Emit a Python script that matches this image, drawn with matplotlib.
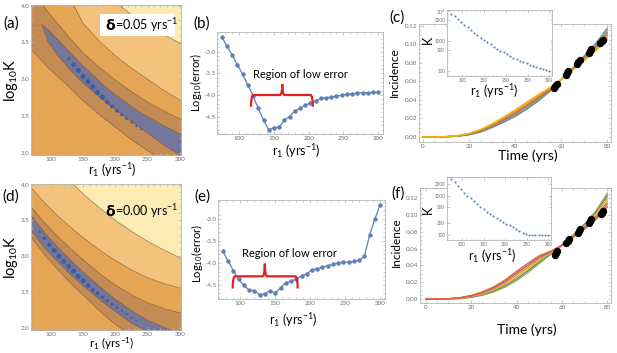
import matplotlib
matplotlib.use("Agg")
import matplotlib.pyplot as plt
from matplotlib.path import Path
from matplotlib.patches import PathPatch, Rectangle
from matplotlib.ticker import MultipleLocator, FixedLocator, FixedFormatter, NullFormatter, FormatStrFormatter

plt.rcParams["font.family"] = ["Lato", "DejaVu Sans"]
plt.rcParams["mathtext.fontset"] = "custom"
plt.rcParams["mathtext.rm"] = "Lato"
plt.rcParams["mathtext.it"] = "Lato:italic"
plt.rcParams["mathtext.bf"] = "Lato:bold"

W, H = 617, 353

# ---- data -------------------------------------------------------------
# r1 values of the parameter scan (yrs^-1)
r1 = [75, 82.5, 90, 97.5, 105, 112.5, 120, 127.5, 135, 142.5, 150, 157.5, 165, 172.5,
      180, 187.5, 195, 202.5, 210, 217.5, 225, 232.5, 240, 247.5, 255, 262.5, 270,
      277.5, 285, 292.5, 300]
# log10(error) for delta = 0.05 (b) and delta = 0 (e)
err_b = [-2.67, -2.87, -3.08, -3.31, -3.52, -3.77, -4.02, -4.31, -4.58, -4.81, -4.75,
         -4.74, -4.58, -4.50, -4.37, -4.31, -4.24, -4.18, -4.13, -4.08, -4.06, -4.05,
         -4.02, -4.01, -3.98, -3.97, -3.96, -3.95, -3.95, -3.94, -3.94]
err_e = [-3.74, -3.96, -4.18, -4.38, -4.52, -4.63, -4.64, -4.73, -4.71, -4.64, -4.69,
         -4.57, -4.46, -4.42, -4.37, -4.30, -4.25, -4.16, -4.14, -4.10, -4.07, -4.03,
         -4.00, -3.99, -3.98, -3.97, -3.94, -3.85, -3.36, -3.00, -2.67]
# best-fit log10 K at each r1 (insets of c and f)
logK_c = [3.92, 3.83, 3.73, 3.64, 3.55, 3.46, 3.37, 3.28, 3.20, 3.12, 3.04, 2.97, 2.90,
          2.82, 2.76, 2.69, 2.63, 2.57, 2.52, 2.46, 2.41, 2.36, 2.32, 2.27, 2.23, 2.19,
          2.15, 2.12, 2.08, 2.05, 2.02]
logK_f = [3.43, 3.34, 3.25, 3.16, 3.08, 3.00, 2.93, 2.86, 2.79, 2.72, 2.66, 2.59, 2.53,
          2.48, 2.43, 2.38, 2.33, 2.28, 2.24, 2.19, 2.14, 2.10, 2.05, 2.02, 2.00, 1.99,
          1.98, 1.98, 1.98, 1.98, 1.98]
# low-error subset shown as dots on the contour maps (index range into r1)
low_a = (7, 23)
low_d = (1, 22)
dot_px_a = [3, 4.5, 5, 5, 5, 5, 5, 5, 4.5, 4, 3.5, 3, 2.5, 2.2, 2, 2]
dot_px_d = [2.5, 3.5, 4.5, 5, 5, 5, 5, 5, 5, 5, 4.5, 4, 4, 3.5, 3, 3, 2.5, 2.5, 2, 2, 2]

# contour boundaries of the error surface (log10 K vs r1)
rA = [70, 86, 95, 110, 130, 150, 175, 200, 225, 250, 275, 300, 310]
a_brown_lo = [3.40, 3.25, 3.16, 3.04, 2.88, 2.71, 2.52, 2.35, 2.18, 2.03, 1.89, 1.76, 1.72]
a_blue_lo = [3.74, 3.74, 3.52, 3.33, 3.13, 2.95, 2.76, 2.59, 2.43, 2.27, 2.11, 1.97, 1.92]
a_blue_hi = [3.74, 3.74, 3.68, 3.54, 3.36, 3.18, 2.97, 2.79, 2.63, 2.49, 2.37, 2.26, 2.22]
a_brown_hi = [4.25, 4.02, 3.92, 3.76, 3.55, 3.36, 3.16, 2.99, 2.83, 2.69, 2.57, 2.46, 2.42]
a_orange_hi = [4.80, 4.60, 4.50, 4.30, 4.10, 3.76, 3.52, 3.32, 3.15, 3.00, 2.85, 2.72, 2.68]
a_light_hi = [5.50, 5.30, 5.20, 5.00, 4.80, 4.60, 4.28, 4.05, 3.88, 3.74, 3.61, 3.49, 3.45]

rD = [70, 90, 110, 130, 150, 175, 200, 225, 250, 275, 300, 310]
d_brown_lo = [3.26, 3.02, 2.82, 2.63, 2.46, 2.24, 2.05, 1.89, 1.77, 1.68, 1.62, 1.60]
d_blue_lo = [3.35, 3.12, 2.93, 2.75, 2.59, 2.40, 2.23, 2.07, 1.95, 1.85, 1.78, 1.75]
d_blue_hi = [3.56, 3.33, 3.13, 2.95, 2.78, 2.58, 2.40, 2.24, 2.11, 2.01, 1.92, 1.89]
d_brown_hi = [3.68, 3.47, 3.28, 3.11, 2.95, 2.76, 2.60, 2.46, 2.35, 2.27, 2.21, 2.19]
d_orange_hi = [3.95, 3.75, 3.57, 3.41, 3.26, 3.09, 2.94, 2.81, 2.70, 2.62, 2.56, 2.54]
d_light_hi = [4.60, 4.40, 4.22, 4.05, 3.87, 3.68, 3.50, 3.35, 3.21, 3.09, 2.98, 2.95]

# incidence model curves (t = 0..80 every 5 yrs)
t_grid = [0, 5, 10, 15, 20, 25, 30, 35, 40, 45, 50, 55, 60, 65, 70, 75, 80]
inc_c = [
    [0, 0, .0001, .0007, .0022, .0051, .0100, .0157, .0220, .0297, .0385, .0490, .0620, .0742, .0875, .1010, .1170],
    [0, 0, .0001, .0008, .0025, .0057, .0108, .0168, .0234, .0312, .0399, .0498, .0620, .0737, .0865, .0994, .1146],
    [0, 0, .0002, .0009, .0028, .0062, .0116, .0179, .0248, .0327, .0413, .0506, .0620, .0732, .0855, .0978, .1122],
    [0, 0, .0002, .0011, .0032, .0068, .0124, .0191, .0262, .0343, .0427, .0514, .0620, .0728, .0845, .0962, .1098],
    [0, 0, .0003, .0012, .0035, .0073, .0132, .0202, .0276, .0358, .0441, .0522, .0620, .0723, .0835, .0946, .1074],
    [0, 0, .0003, .0013, .0038, .0079, .0140, .0213, .0290, .0373, .0455, .0530, .0620, .0718, .0825, .0930, .1050],
]
inc_f = [
    [0, 0, .0001, .0005, .0018, .0045, .0085, .0143, .0220, .0315, .0425, .0530, .0640, .0765, .0895, .1050, .1260],
    [0, 0, .0001, .0007, .0023, .0053, .0097, .0160, .0242, .0337, .0443, .0538, .0640, .0759, .0883, .1030, .1228],
    [0, 0, .0002, .0009, .0028, .0061, .0109, .0177, .0264, .0359, .0461, .0546, .0640, .0753, .0871, .1010, .1196],
    [0, 0, .0002, .0011, .0032, .0069, .0121, .0193, .0286, .0381, .0479, .0554, .0640, .0747, .0859, .0990, .1164],
    [0, 0, .0003, .0013, .0037, .0077, .0133, .0210, .0308, .0403, .0497, .0562, .0640, .0741, .0847, .0970, .1132],
    [0, 0, .0003, .0015, .0042, .0085, .0145, .0227, .0330, .0425, .0515, .0570, .0640, .0735, .0835, .0950, .1100],
]
colors_c = ["#5E81B5", "#8FB032", "#8778B3", "#EB6235", "#E19C24", "#F2B705"]
colors_f = ["#8FB032", "#5E81B5", "#F2B705", "#E19C24", "#A5609D", "#EB6235"]
# observed incidence
t_obs = [57, 57.5, 58, 62, 62.5, 63, 67, 67.5, 68, 72, 72.5, 73, 77, 77.5, 78]
inc_obs = [0.053, 0.055, 0.057, 0.067, 0.069, 0.071, 0.079, 0.081, 0.083,
           0.091, 0.093, 0.095, 0.101, 0.103, 0.105]

C_LIGHTEST, C_LIGHT, C_ORANGE, C_BROWN, C_BLUE = "#fdebb4", "#f3c37d", "#e6a555", "#c38c55", "#75779a"
EDGE = "#6b5030"
FRAME = "#b5b5b5"
TICKLBL = "#6e6e6e"
LINEBLUE = "#5E81B5"
RED = "#e3201b"


def px_rect(l, t, r, b):
    return [l / W, 1 - b / H, (r - l) / W, (b - t) / H]


def ftext(x, y, s, **kw):
    return fig.text(x / W, 1 - y / H, s, ha=kw.pop("ha", "center"), va=kw.pop("va", "center"), **kw)


def mma_frame(ax, size=4.5):
    for sp in ax.spines.values():
        sp.set_color(FRAME)
        sp.set_linewidth(0.6)
    ax.tick_params(which="both", direction="in", top=True, right=True, color=FRAME,
                   width=0.5, labelsize=size, labelcolor=TICKLBL, pad=1.2)
    ax.tick_params(which="major", length=2.5)
    ax.tick_params(which="minor", length=1.3)


def brace(ax, xl, xr, xc, yl, ye, yp, d=3.5):
    verts = [(xl, ye), (xl, yl), (xl + d, yl), (xc - d, yl), (xc, yl), (xc, yp),
             (xc, yl), (xc + d, yl), (xr - d, yl), (xr, yl), (xr, ye)]
    codes = [Path.MOVETO, Path.CURVE3, Path.CURVE3, Path.LINETO, Path.CURVE3, Path.CURVE3,
             Path.CURVE3, Path.CURVE3, Path.LINETO, Path.CURVE3, Path.CURVE3]
    ax.add_patch(PathPatch(Path(verts, codes), fc="none", ec=RED, lw=1.6, zorder=6,
                           clip_on=False))


def contour_panel(rect, rg, bounds, lo_idx, sizes, logK):
    ax = fig.add_axes(rect)
    ax.set_facecolor(C_LIGHTEST)
    lo_b, blue_lo, blue_hi, hi_b, orange_hi, light_hi = bounds
    for top, col in [(light_hi, C_LIGHT), (orange_hi, C_ORANGE), (hi_b, C_BROWN),
                     (blue_hi, C_BLUE), (blue_lo, C_BROWN), (lo_b, C_ORANGE)]:
        ax.fill_between(rg, 0, top, color=col, lw=0)
    for b in [lo_b, hi_b, orange_hi, light_hi]:
        ax.plot(rg, b, color=EDGE, lw=0.5, alpha=0.7)
    k0 = 1 if blue_lo[0] == blue_hi[0] else 0
    ax.plot(rg[k0:], blue_lo[k0:], color=EDGE, lw=0.5, alpha=0.7)
    ax.plot(rg[k0:], blue_hi[k0:], color=EDGE, lw=0.5, alpha=0.7)
    i0, i1 = lo_idx
    ax.scatter(r1[i0:i1], logK[i0:i1], s=[(p * 0.72) ** 2 for p in sizes],
               color="#3e5d9c", lw=0, zorder=5)
    ax.set_xlim(69, 302)
    ax.set_ylim(1.97, 4.01)
    ax.xaxis.set_major_locator(MultipleLocator(50))
    ax.xaxis.set_minor_locator(MultipleLocator(10))
    ax.yaxis.set_major_locator(MultipleLocator(0.5))
    ax.yaxis.set_minor_locator(MultipleLocator(0.1))
    ax.yaxis.set_major_formatter(FormatStrFormatter("%.1f"))
    mma_frame(ax)
    return ax


def error_panel(rect, err, ylim):
    ax = fig.add_axes(rect)
    ax.plot(r1, err, color=LINEBLUE, lw=0.9, marker="o", ms=2.2)
    ax.set_xlim(68, 307)
    ax.set_ylim(*ylim)
    ax.xaxis.set_major_locator(MultipleLocator(50))
    ax.xaxis.set_minor_locator(MultipleLocator(10))
    ax.yaxis.set_major_locator(MultipleLocator(0.5))
    ax.yaxis.set_minor_locator(MultipleLocator(0.1))
    ax.yaxis.set_major_formatter(FormatStrFormatter("%.1f"))
    mma_frame(ax)
    return ax


def incidence_panel(rect, curves, cols, xlim, ylim):
    ax = fig.add_axes(rect)
    for c, col in zip(curves, cols):
        ax.plot(t_grid, c, color=col, lw=1.0)
    ax.plot(t_obs, inc_obs, "o", color="black", ms=5.3, mew=0, zorder=5)
    ax.set_xlim(*xlim)
    ax.set_ylim(*ylim)
    ax.xaxis.set_major_locator(MultipleLocator(20))
    ax.xaxis.set_minor_locator(MultipleLocator(5))
    ax.yaxis.set_major_locator(MultipleLocator(0.02))
    ax.yaxis.set_minor_locator(MultipleLocator(0.005))
    ax.yaxis.set_major_formatter(FormatStrFormatter("%.2f"))
    mma_frame(ax)
    return ax


def k_inset(rect, logK, ylim, ticks, labels):
    ax = fig.add_axes(rect)
    ax.set_facecolor("white")
    ax.plot(r1, [10 ** v for v in logK], "o", color=LINEBLUE, ms=1.5, mew=0)
    ax.set_yscale("log")
    ax.set_xlim(65, 306)
    ax.set_ylim(10 ** ylim[0], 10 ** ylim[1])
    ax.xaxis.set_major_locator(MultipleLocator(50))
    ax.xaxis.set_minor_locator(MultipleLocator(10))
    ax.yaxis.set_major_locator(FixedLocator(ticks))
    ax.yaxis.set_major_formatter(FixedFormatter(labels))
    ax.yaxis.set_minor_formatter(NullFormatter())
    mma_frame(ax, size=3.3)
    ax.tick_params(which="major", length=1.8)
    ax.tick_params(which="minor", length=1.0)
    return ax


fig = plt.figure(figsize=(W / 100, H / 100), dpi=100)

r_label = r"r$_1$ (yrs$^{-1}$)"

# (a)
ax_a = contour_panel(px_rect(31, 5, 181, 155), rA,
                     [a_brown_lo, a_blue_lo, a_blue_hi, a_brown_hi, a_orange_hi, a_light_hi],
                     low_a, dot_px_a, logK_c)
# (d)
ax_d = contour_panel(px_rect(31, 184, 181, 330), rD,
                     [d_brown_lo, d_blue_lo, d_blue_hi, d_brown_hi, d_orange_hi, d_light_hi],
                     low_d, dot_px_d, logK_f)

# delta boxes
renderer = fig.canvas.get_renderer()
for (bx0, by0, bx1, by1), val in [((100, 14, 175, 36), "0.05"), ((100, 201, 170, 221), "0.00")]:
    ax_a.add_patch(Rectangle((bx0 / W, 1 - by1 / H), (bx1 - bx0) / W, (by1 - by0) / H,
                             transform=fig.transFigure, fc="white", ec="none", zorder=7,
                             clip_on=False))
    t1 = ftext(bx0 + 5, (by0 + by1) / 2 + 0.5, "δ", fontsize=10, fontweight="bold",
               family=["DejaVu Sans"], ha="left", zorder=8)
    bb = t1.get_window_extent(renderer)
    fig.text(bb.x1 / W, 1 - ((by0 + by1) / 2 + 0.5) / H, "=" + val + r" yrs$^{-1}$",
             fontsize=9, ha="left", va="center", zorder=8)

# (b), (e)
ax_b = error_panel(px_rect(217, 32, 383, 134), err_b, (-4.90, -2.545))
brace(ax_b, 117, 206, 162, -4.0, -4.27, -3.75)
ax_b.text(188, -3.52, "Region of low error", ha="center", va="center", fontsize=8)
ax_e = error_panel(px_rect(218, 200, 385, 299), err_e, (-4.83, -2.56))
brace(ax_e, 89, 182, 135, -4.31, -4.59, -4.02)
ax_e.text(170, -3.78, "Region of low error", ha="center", va="center", fontsize=8)

# (c), (f)
ax_c = incidence_panel(px_rect(419, 24, 611, 142), inc_c, colors_c, (-1.6, 81.6), (-0.0055, 0.1218))
ax_f = incidence_panel(px_rect(420, 188, 611, 303), inc_f, colors_f, (-2.5, 81.6), (-0.0048, 0.1323))
k_inset(px_rect(447, 10, 552, 76), logK_c, (1.85, 4.04),
        [100, 500, 1000, 5000, 10000], ["100", "500", "1000", "5000", r"10$^4$"])
k_inset(px_rect(447, 177, 551, 240), logK_f, (1.86, 3.48),
        [100, 200, 500, 1000, 2000], ["100", "200", "500", "1000", "2000"])

# panel letters
for x, y, s in [(11, 24, "(a)"), (202, 24, "(b)"), (397, 18, "(c)"),
                (11, 197, "(d)"), (202, 197, "(e)"), (398, 194, "(f)")]:
    ftext(x, y, s, fontsize=11)

# axis labels
ftext(11, 80, r"log$_{10}$K", fontsize=10.5, rotation=90)
ftext(11, 257, r"log$_{10}$K", fontsize=10.5, rotation=90)
ftext(112, 170, r_label, fontsize=9)
ftext(112, 344, r_label, fontsize=8.5)
ftext(196, 82, r"Log$_{10}$(error)", fontsize=8, rotation=90)
ftext(197, 253, r"Log$_{10}$(error)", fontsize=8, rotation=90)
ftext(296, 151, r_label, fontsize=9)
ftext(293, 320, r_label, fontsize=9)
ftext(394, 72, "Incidence", fontsize=8.5, rotation=90)
ftext(396, 242, "Incidence", fontsize=8.5, rotation=90)
ftext(528, 156, "Time (yrs)", fontsize=10)
ftext(527, 330, "Time (yrs)", fontsize=10)
ftext(428, 40, "K", fontsize=9, rotation=90)
ftext(428, 210, "K", fontsize=9, rotation=90)
ftext(494, 91, r_label, fontsize=9)
ftext(492, 256, r_label, fontsize=9)

fig.savefig("out.png", dpi=100)
